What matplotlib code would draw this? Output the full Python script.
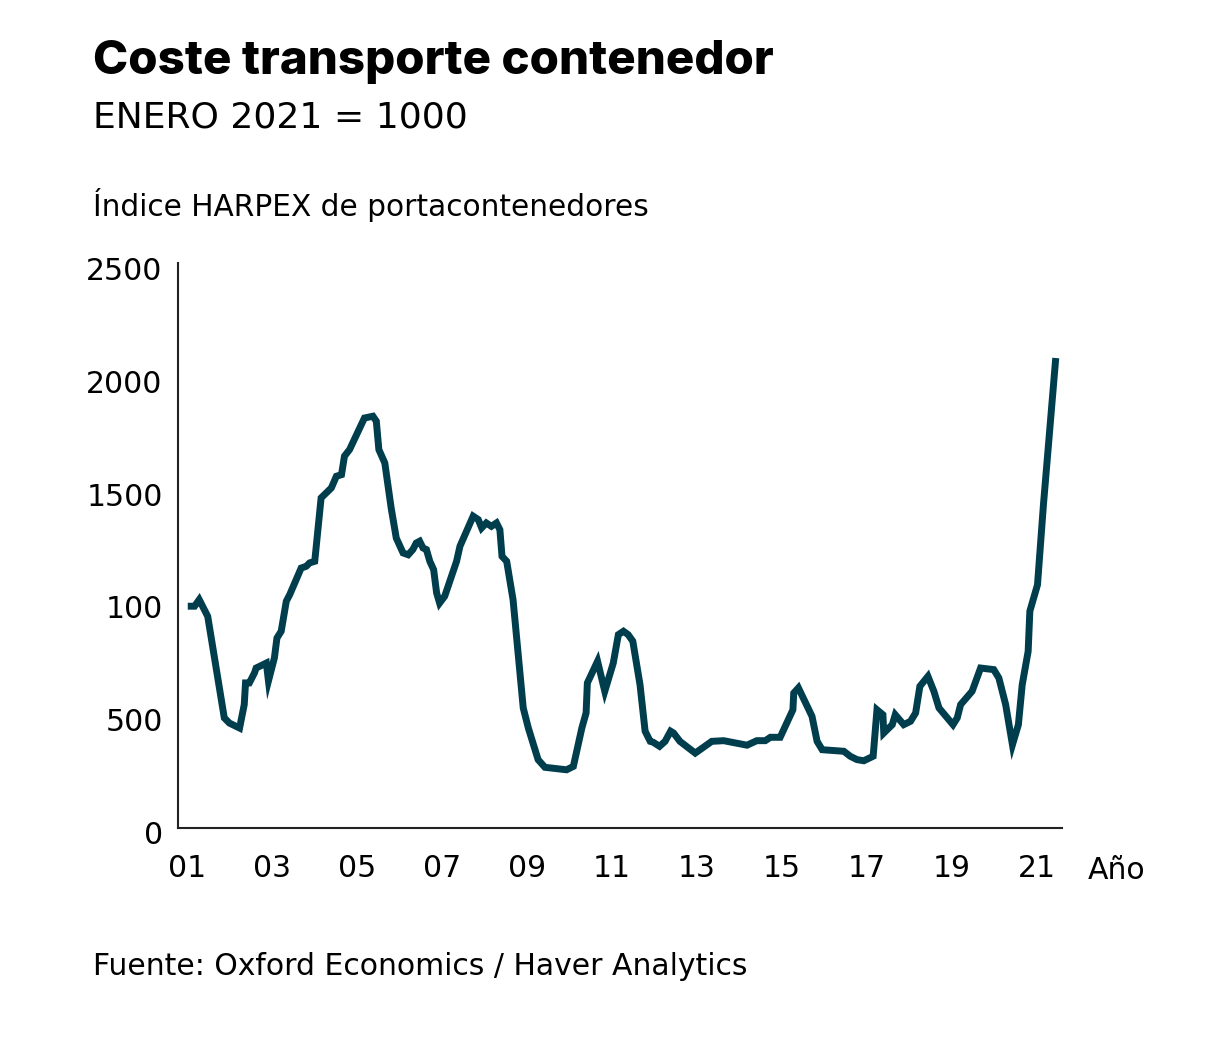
import matplotlib
matplotlib.use("Agg")
import matplotlib.pyplot as plt
import matplotlib.transforms as mtransforms
from matplotlib import font_manager

# ---- data ----
years = [2001.01, 2001.17, 2001.28, 2001.48, 2001.87, 2001.99, 2002.23, 2002.34, 2002.37, 2002.46,
         2002.58, 2002.62, 2002.86, 2002.91, 2003.05, 2003.11, 2003.21, 2003.33, 2003.41, 2003.68,
         2003.80, 2003.88, 2004.00, 2004.07, 2004.15, 2004.27, 2004.39, 2004.51, 2004.63, 2004.70,
         2004.82, 2005.17, 2005.37, 2005.45, 2005.51, 2005.65, 2005.80, 2005.92, 2006.08, 2006.20,
         2006.31, 2006.39, 2006.47, 2006.55, 2006.63, 2006.71, 2006.80, 2006.87, 2006.94, 2007.06,
         2007.34, 2007.42, 2007.73, 2007.85, 2007.93, 2008.04, 2008.16, 2008.28, 2008.36, 2008.41,
         2008.52, 2008.67, 2008.91, 2009.03, 2009.26, 2009.42, 2009.93, 2010.09, 2010.29, 2010.39,
         2010.42, 2010.66, 2010.83, 2011.03, 2011.15, 2011.27, 2011.38, 2011.49, 2011.66, 2011.78,
         2011.90, 2011.97, 2012.12, 2012.25, 2012.38, 2012.45, 2012.60, 2012.96, 2013.35, 2013.63,
         2014.18, 2014.41, 2014.61, 2014.73, 2014.96, 2015.26, 2015.28, 2015.39, 2015.71, 2015.83,
         2015.95, 2016.46, 2016.61, 2016.77, 2016.93, 2017.15, 2017.24, 2017.38, 2017.40, 2017.60,
         2017.67, 2017.87, 2018.03, 2018.15, 2018.25, 2018.44, 2018.58, 2018.70, 2019.03, 2019.13,
         2019.21, 2019.48, 2019.68, 2019.99, 2020.11, 2020.27, 2020.43, 2020.57, 2020.66, 2020.80,
         2020.84, 2021.02, 2021.16, 2021.45]
harpex = [983, 983, 1012, 938, 488, 465, 443, 547, 643, 643,
          687, 709, 731, 652, 754, 842, 872, 1005, 1034, 1152,
          1160, 1175, 1182, 1315, 1463, 1485, 1507, 1559, 1566, 1648,
          1677, 1817, 1825, 1803, 1677, 1618, 1418, 1285, 1219, 1211,
          1234, 1263, 1271, 1241, 1234, 1182, 1145, 1042, 997, 1027,
          1182, 1249, 1382, 1367, 1330, 1352, 1337, 1352, 1322, 1204,
          1182, 1012, 532, 443, 303, 269, 258, 273, 443, 510,
          643, 739, 606, 731, 857, 872, 857, 828, 635, 429,
          384, 380, 362, 384, 429, 421, 384, 332, 384, 387,
          367, 387, 387, 402, 402, 524, 598, 621, 495, 384,
          347, 340, 318, 303, 298, 318, 524, 502, 421, 458,
          502, 458, 473, 510, 628, 672, 606, 532, 458, 488,
          547, 606, 709, 702, 665, 547, 369, 458, 635, 783,
          961, 1078, 1433, 2083]

xtick_vals = [2001, 2003, 2005, 2007, 2009, 2011, 2013, 2015, 2017, 2019, 2021]
xtick_labels = ["01", "03", "05", "07", "09", "11", "13", "15", "17", "19", "21"]
ytick_vals = [0, 500, 1000, 1500, 2000, 2500]
ytick_labels = ["0", "500", "100", "1500", "2000", "2500"]

title = "Coste transporte contenedor"
subtitle = "ENERO 2021 = 1000"
axis_title = "Índice HARPEX de portacontenedores"
source = "Fuente: Oxford Economics / Haver Analytics"
x_unit = "Año"

LINE = "#003d4d"
BODY = "DejaVu Sans"

W, H = 1211, 1040
fig = plt.figure(figsize=(W / 100, H / 100), dpi=100)
fig.patch.set_facecolor("white")

left, right, bottom, top = 178, 1061.7, 828, 262.8
ax = fig.add_axes([left / W, 1 - bottom / H, (right - left) / W, (bottom - top) / H])

ax.plot(years, harpex, color=LINE, lw=5.0, solid_joinstyle="miter", solid_capstyle="butt")

ax.set_xlim(2000.78, 2021.59)
ax.set_ylim(0, 2505)

for s in ["top", "right"]:
    ax.spines[s].set_visible(False)
for s in ["left", "bottom"]:
    ax.spines[s].set_color("#222222")
    ax.spines[s].set_linewidth(1.5)

ax.set_xticks(xtick_vals)
ax.set_xticklabels(xtick_labels)
ax.set_yticks(ytick_vals)
ax.set_yticklabels(ytick_labels)
ax.tick_params(axis="both", length=0, labelsize=21.5, colors="black")
ax.tick_params(axis="x", pad=19)
ax.tick_params(axis="y", pad=11)
for lab in ax.get_xticklabels() + ax.get_yticklabels():
    lab.set_fontfamily(BODY)
off = mtransforms.ScaledTranslation(0, -4.5 / 100, fig.dpi_scale_trans)
for lab in ax.get_yticklabels():
    lab.set_transform(lab.get_transform() + off)

# "Año" unit label beside x tick labels
fig.text(1088 / W, 1 - 879 / H, x_unit, fontsize=21.5, family=BODY, ha="left", va="baseline")

names = {f.name for f in font_manager.fontManager.ttflist}
title_family = "Inter" if "Inter" in names else "Lato"
t = fig.text(93 / W, 1 - 74 / H, title, fontsize=30, family=[title_family, "DejaVu Sans"],
             fontweight=800, ha="left", va="baseline")
fig.canvas.draw()
bb = t.get_window_extent()
target_w = 775 - 93
if bb.width > 0:
    t.set_fontsize(30 * target_w / bb.width)

fig.text(93 / W, 1 - 127 / H, subtitle, fontsize=26, family=BODY, ha="left", va="baseline")
fig.text(93 / W, 1 - 216 / H, axis_title, fontsize=21.3, family=BODY, ha="left", va="baseline")
fig.text(93 / W, 1 - 975 / H, source, fontsize=21.5, family=BODY, ha="left", va="baseline")

fig.savefig("out.png", dpi=100, facecolor="white")
